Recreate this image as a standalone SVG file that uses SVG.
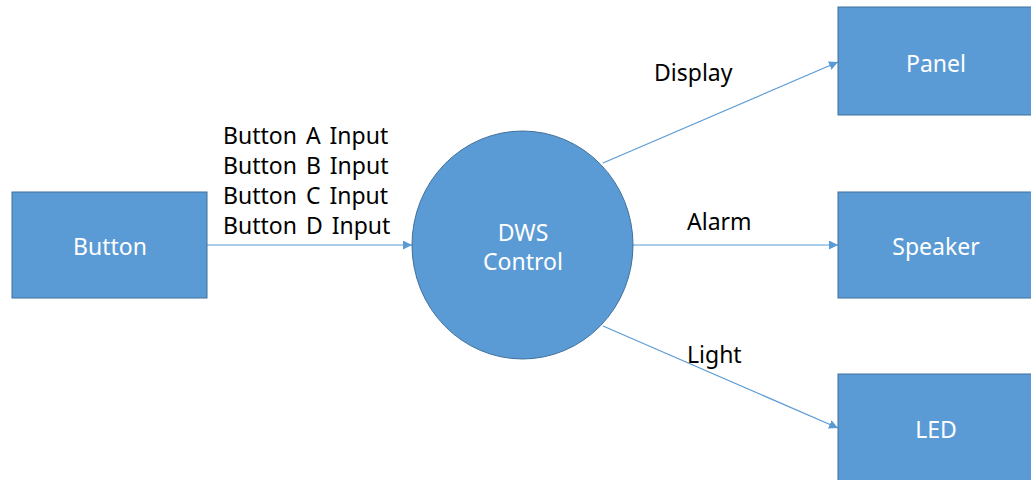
<svg xmlns="http://www.w3.org/2000/svg" width="1031" height="480" viewBox="0 0 1031 480">
<defs>
<style>
.node{fill:#5B9BD5;stroke:#41719C;stroke-width:1}
.nt{fill:#FFFFFF;font-family:"Noto Sans","Open Sans",sans-serif;font-size:23px;text-anchor:middle;dominant-baseline:central}
.lt{fill:#000000;font-family:"Noto Sans","Open Sans",sans-serif;font-size:23px;word-spacing:3px}
.edge{stroke:#5B9BD5;stroke-width:1.2;fill:none;marker-end:url(#arr)}
</style>
<marker id="arr" viewBox="0 0 10 10" refX="10" refY="5" markerWidth="9" markerHeight="9" markerUnits="userSpaceOnUse" orient="auto">
<path d="M0,0 L10,5 L0,10 z" fill="#5B9BD5"/>
</marker>
</defs>
<rect width="1031" height="480" fill="#FFFFFF"/>
<g id="connectors">
<line class="edge" x1="207" y1="245" x2="412" y2="245"/>
<line class="edge" x1="603" y1="163" x2="838" y2="62"/>
<line class="edge" x1="633" y1="245" x2="838" y2="245"/>
<line class="edge" x1="603" y1="326" x2="838" y2="428"/>
<text class="lt" x="223" y="144">Button A Input</text>
<text class="lt" x="223" y="174">Button B Input</text>
<text class="lt" x="223" y="204">Button C Input</text>
<text class="lt" x="223" y="234">Button D Input</text>
<text class="lt" x="654" y="81">Display</text>
<text class="lt" x="687" y="230">Alarm</text>
<text class="lt" x="687" y="363">Light</text>
</g>
<g id="button">
<rect class="node" x="12" y="192" width="195" height="106"/>
<text class="nt" x="110" y="246">Button</text>
</g>
<g id="dws">
<ellipse class="node" cx="522.5" cy="245" rx="110.5" ry="114"/>
<text class="nt" x="523" y="232">DWS</text>
<text class="nt" x="523" y="261">Control</text>
</g>
<g id="panel">
<rect class="node" x="838" y="7" width="196" height="108"/>
<text class="nt" x="936" y="63">Panel</text>
</g>
<g id="speaker">
<rect class="node" x="838" y="192" width="196" height="106"/>
<text class="nt" x="936" y="246">Speaker</text>
</g>
<g id="led">
<rect class="node" x="838" y="374" width="196" height="110"/>
<text class="nt" x="936" y="429">LED</text>
</g>
</svg>
